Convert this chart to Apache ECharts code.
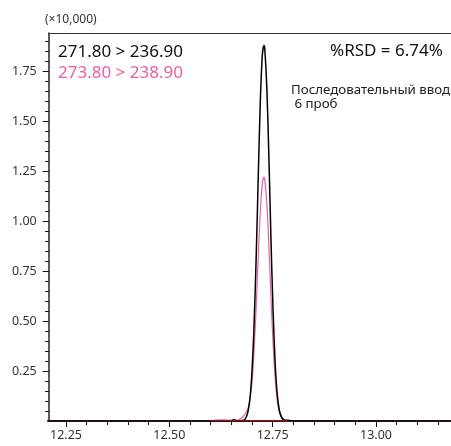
<!DOCTYPE html>
<html><head><meta charset="utf-8">
<script src="https://cdn.jsdelivr.net/npm/echarts@6/dist/echarts.min.js"></script>
<style>html,body{margin:0;padding:0;background:#fff}#c{width:451px;height:446px}</style>
</head><body><div id="c"></div>
<script>
// Retention time (min) and intensity (x10,000)
var blackTimes = [12.20,12.60,12.650,12.655,12.660,12.665,12.680,12.685,12.690,12.695,12.700,12.705,12.710,12.715,12.720,12.725,12.729,12.731,12.736,12.741,12.746,12.751,12.756,12.761,12.766,12.771,12.776,12.781,12.786,12.791,12.800,13.18];
var blackValues = [0,0,0,0.006,0.004,0,0.004,0.015,0.045,0.11,0.25,0.48,0.81,1.21,1.59,1.83,1.877,1.86,1.66,1.31,0.90,0.55,0.29,0.135,0.055,0.022,0.008,0.004,0.004,0.003,0,0];
var pinkTimes = [12.20,12.600,12.610,12.630,12.650,12.660,12.670,12.675,12.680,12.685,12.690,12.695,12.700,12.705,12.710,12.715,12.720,12.725,12.729,12.731,12.736,12.741,12.746,12.751,12.756,12.761,12.766,12.771,12.776,12.781,13.18];
var pinkValues = [0,0,0.005,0.006,0.004,0.003,0.008,0.015,0.025,0.04,0.06,0.11,0.19,0.35,0.565,0.815,1.045,1.19,1.22,1.205,1.085,0.865,0.615,0.385,0.215,0.105,0.045,0.018,0.006,0,0];
var baselineTimes = [12.605, 12.785];
var baselineValues = [0, 0];
var xLabelValues = [12.25, 12.50, 12.75, 13.00];
var xMinorTicks = [12.30,12.35,12.40,12.45,12.55,12.60,12.65,12.70,12.80,12.85,12.90,12.95,13.05,13.10,13.15];
var yLabelValues = [0.25,0.50,0.75,1.00,1.25,1.50,1.75];
var yMinorTicks = [0.05,0.10,0.15,0.20,0.30,0.35,0.40,0.45,0.55,0.60,0.65,0.70,0.80,0.85,0.90,0.95,1.05,1.10,1.15,1.20,1.30,1.35,1.40,1.45,1.55,1.60,1.65,1.70,1.80,1.85,1.90];
var transitions = ['271.80 > 236.90', '273.80 > 238.90'];
var rsdText = '%RSD = 6.74%';
var noteLines = ['Последовательный ввод', ' 6 проб'];
var unitText = '(×10,000)';

function pairs(t, v){ return t.map(function(x,i){ return [x, v[i]]; }); }

var FONT = 'Noto Sans';
var XMIN = 12.2081, XMAX = 13.1815, YMIN = 0, YMAX = 1.94;
var chart = echarts.init(document.getElementById('c'), null, {renderer:'canvas'});
chart.setOption({
  animation: false,
  grid: {left: 48.7, right: 0, top: 33, bottom: 25, containLabel: false},
  xAxis: [
    {type:'value', min:XMIN, max:XMAX, position:'bottom',
     axisLine:{show:true, lineStyle:{color:'#111', width:2}},
     axisTick:{show:true, length:6, customValues:xLabelValues, lineStyle:{color:'#111', width:1}},
     axisLabel:{show:true, customValues:xLabelValues, color:'#333', fontFamily:FONT, fontSize:12.5, margin:8,
       formatter:function(v){ return v.toFixed(2); }},
     splitLine:{show:false}},
    {type:'value', min:XMIN, max:XMAX, position:'bottom',
     axisLine:{show:false},
     axisTick:{show:true, length:4, customValues:xMinorTicks, lineStyle:{color:'#111', width:1}},
     axisLabel:{show:false}, splitLine:{show:false}},
    {type:'value', min:XMIN, max:XMAX, position:'top',
     axisLine:{show:true, lineStyle:{color:'#333', width:1}},
     axisTick:{show:false}, axisLabel:{show:false}, splitLine:{show:false}}
  ],
  yAxis: [
    {type:'value', min:YMIN, max:YMAX, position:'left',
     axisLine:{show:true, lineStyle:{color:'#222', width:1.5}},
     axisTick:{show:true, length:6, customValues:yLabelValues, lineStyle:{color:'#111', width:1}},
     axisLabel:{show:true, customValues:yLabelValues, color:'#333', fontFamily:FONT, fontSize:12.5, margin:12,
       formatter:function(v){ return v.toFixed(2); }},
     splitLine:{show:false}},
    {type:'value', min:YMIN, max:YMAX, position:'left',
     axisLine:{show:false},
     axisTick:{show:true, length:3.5, customValues:yMinorTicks, lineStyle:{color:'#111', width:1}},
     axisLabel:{show:false}, splitLine:{show:false}}
  ],
  series: [
    {type:'line', data:pairs(pinkTimes, pinkValues), showSymbol:false, smooth:0.3, clip:true,
     lineStyle:{color:'#e8619f', width:1.2}, z:3},
    {type:'line', data:pairs(blackTimes, blackValues), showSymbol:false, smooth:0.3, clip:true,
     lineStyle:{color:'#000', width:1.5}, z:4},
    {type:'line', data:pairs(baselineTimes, baselineValues), showSymbol:false,
     lineStyle:{color:'#e02020', width:1}, z:5}
  ],
  graphic: [
    {type:'text', left:45, top:14, style:{text:unitText, fill:'#333', font:'12px "Noto Sans"'}},
    {type:'text', left:58, top:44, style:{text:transitions[0], fill:'#111', font:'17px "Noto Sans"'}},
    {type:'text', left:58, top:65, style:{text:transitions[1], fill:'#e8619f', font:'17px "Noto Sans"'}},
    {type:'text', left:330, top:43, style:{text:rsdText, fill:'#111', font:'17px "Noto Sans"'}},
    {type:'text', left:291, top:84, style:{text:noteLines[0], fill:'#222', font:'13.3px "Noto Sans"'}},
    {type:'text', left:291, top:98, style:{text:noteLines[1], fill:'#222', font:'13.3px "Noto Sans"'}}
  ]
});
</script></body></html>
